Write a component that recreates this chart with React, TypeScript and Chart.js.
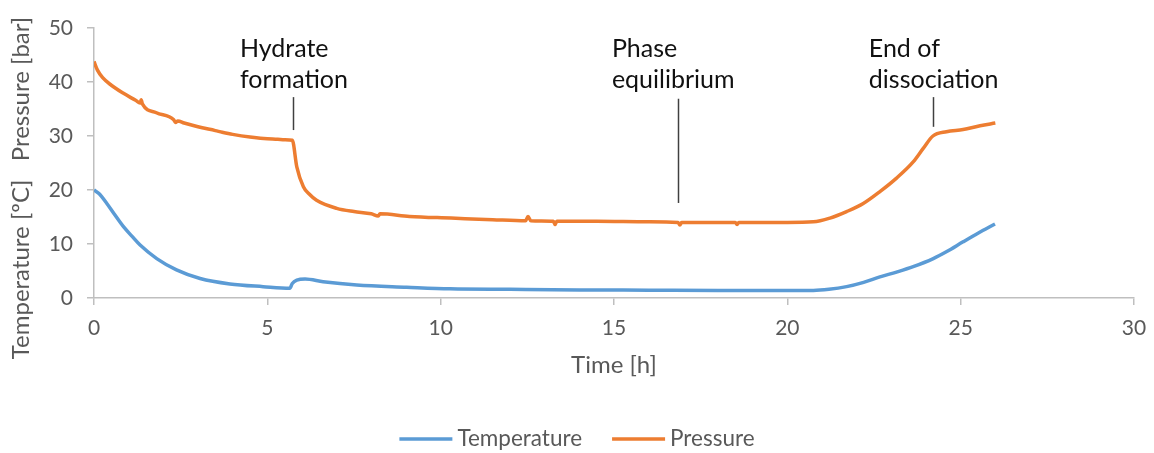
import React, { useEffect, useRef } from "react";
import { Chart, registerables } from "chart.js";
Chart.register(...registerables);

const tempTime = [0, 0.15, 0.37, 0.6, 0.85, 1.1, 1.33, 1.81, 2.38, 3.06, 3.92, 4.88, 5.65, 5.72, 5.85, 6.09, 6.61, 7.58, 9.02, 10.27, 12, 14, 16, 18, 19.8, 20.75, 21.2, 21.71, 22.2, 22.67, 23.15, 23.63, 24.21, 24.6, 25.07, 25.5, 25.99];
const tempValues = [20.0, 19.3, 17.5, 15.4, 13.2, 11.4, 9.8, 7.3, 5.2, 3.6, 2.6, 2.1, 1.8, 2.7, 3.3, 3.5, 3.0, 2.4, 2.0, 1.7, 1.6, 1.5, 1.45, 1.4, 1.4, 1.4, 1.6, 2.1, 2.9, 3.9, 4.8, 5.8, 7.3, 8.6, 10.4, 12.0, 13.7];

const pressTime = [0, 0.1, 0.25, 0.5, 0.85, 1.2, 1.33, 1.36, 1.4, 1.8, 2.3, 2.35, 2.42, 2.6, 3.0, 3.5, 3.7, 4.0, 4.5, 4.8, 5.0, 5.3, 5.5, 5.72, 5.85, 6.04, 6.2, 6.42, 7.0, 7.5, 8.0, 8.2, 8.25, 9.1, 10.3, 11.5, 12.45, 12.52, 12.6, 13.25, 13.3, 13.35, 14.5, 16.0, 16.85, 16.9, 16.95, 18.0, 18.5, 18.55, 18.6, 20.0, 20.75, 21.23, 21.71, 22.19, 22.67, 23.15, 23.63, 23.92, 24.2, 24.59, 25.07, 25.56, 26.0];
const pressValues = [43.8, 42.2, 40.8, 39.4, 37.9, 36.6, 36.1, 36.7, 35.9, 34.3, 33.0, 32.5, 32.8, 32.4, 31.7, 31.0, 30.7, 30.3, 29.8, 29.6, 29.5, 29.4, 29.3, 29.2, 24.3, 20.6, 19.3, 18.1, 16.6, 16.0, 15.6, 15.2, 15.6, 15.1, 14.8, 14.5, 14.3, 15.1, 14.3, 14.2, 13.6, 14.2, 14.2, 14.1, 14.0, 13.5, 14.0, 14.0, 14.0, 13.6, 14.0, 14.0, 14.1, 14.8, 16.0, 17.5, 19.7, 22.2, 25.2, 27.7, 30.0, 30.8, 31.2, 31.9, 32.4];

const seriesLabels = ["Temperature", "Pressure"];
const seriesColors = ["#5B9BD5", "#ED7D31"];

const annotationLines = [["Hydrate", "formation"], ["Phase", "equilibrium"], ["End of", "dissociation"]];
const annotationTextX = [4.21, 14.94, 22.35];
const annotationLineX = [5.74, 16.84, 24.19];
const annotationLineFrom = [31.1, 17.6, 31.7];
const annotationLineTo = [37.2, 36.9, 37.2];
const annotationBaselines = [44.7, 38.8];

const yTitle = "Temperature [ºC]   Pressure [bar]";
const xTitle = "Time [h]";

const FONT = "Lato";
const GREY = "#595959";
const AXIS = "#bfbfbf";

export default function App() {
  const ref = useRef<HTMLCanvasElement>(null);
  useEffect(() => {
    document.body.style.margin = "0";
    const extras = {
      id: "extras",
      afterDraw(chart: any) {
        const { ctx, scales } = chart;
        const x = scales.x;
        const y = scales.y;
        ctx.save();
        // annotations
        ctx.fillStyle = "#111111";
        ctx.font = `25px ${FONT}`;
        ctx.textAlign = "left";
        ctx.textBaseline = "alphabetic";
        annotationLines.forEach((lines, i) => {
          const tx = x.getPixelForValue(annotationTextX[i]);
          lines.forEach((t, j) => {
            ctx.fillText(t, tx, y.getPixelForValue(annotationBaselines[j]));
          });
          const lx = Math.round(x.getPixelForValue(annotationLineX[i])) + 0.5;
          ctx.strokeStyle = "#404040";
          ctx.lineWidth = 1.5;
          ctx.beginPath();
          ctx.moveTo(lx, y.getPixelForValue(annotationLineFrom[i]));
          ctx.lineTo(lx, y.getPixelForValue(annotationLineTo[i]));
          ctx.stroke();
        });
        // y title
        ctx.save();
        ctx.translate(21, 188);
        ctx.rotate(-Math.PI / 2);
        ctx.fillStyle = GREY;
        ctx.font = `24px ${FONT}`;
        ctx.textAlign = "center";
        ctx.textBaseline = "middle";
        ctx.fillText(yTitle, 0, 0);
        ctx.restore();
        // legend
        ctx.font = `22.5px ${FONT}`;
        ctx.textBaseline = "middle";
        ctx.textAlign = "left";
        const sw = 53, gap = 5, spacing = 30;
        const widths = seriesLabels.map((l) => ctx.measureText(l).width);
        const total = widths.reduce((a, w) => a + sw + gap + w, 0) + spacing;
        let cx = chart.width / 2 - total / 2;
        const ly = 439;
        seriesLabels.forEach((l, i) => {
          ctx.strokeStyle = seriesColors[i];
          ctx.lineWidth = 3.5;
          ctx.beginPath();
          ctx.moveTo(cx, ly);
          ctx.lineTo(cx + sw, ly);
          ctx.stroke();
          ctx.fillStyle = GREY;
          ctx.fillText(l, cx + sw + gap, ly);
          cx += sw + gap + widths[i] + spacing;
        });
        ctx.restore();
      },
    };
    const chart = new Chart(ref.current as HTMLCanvasElement, {
      type: "line",
      data: {
        datasets: [
          {
            label: seriesLabels[0],
            data: tempTime.map((t, i) => ({ x: t, y: tempValues[i] })),
            borderColor: seriesColors[0],
            backgroundColor: seriesColors[0],
            borderWidth: 3.5,
            pointRadius: 0,
            cubicInterpolationMode: "monotone",
            fill: false,
          },
          {
            label: seriesLabels[1],
            data: pressTime.map((t, i) => ({ x: t, y: pressValues[i] })),
            borderColor: seriesColors[1],
            backgroundColor: seriesColors[1],
            borderWidth: 3.5,
            pointRadius: 0,
            cubicInterpolationMode: "monotone",
            fill: false,
          },
        ],
      },
      options: {
        responsive: false,
        animation: false,
        layout: { padding: { left: 0, right: 20, top: 28, bottom: 73 } },
        plugins: { legend: { display: false }, tooltip: { enabled: false } },
        scales: {
          x: {
            type: "linear",
            min: 0,
            max: 30,
            ticks: { stepSize: 5, padding: 11, color: GREY, font: { family: FONT, size: 21 }, maxRotation: 0 },
            grid: { drawOnChartArea: false, drawTicks: true, tickLength: 7, color: AXIS, lineWidth: 1.5 },
            border: { color: AXIS, width: 1.5 },
            title: { display: true, text: xTitle, color: GREY, font: { family: FONT, size: 24 }, padding: 0 },
            afterFit: (s: any) => { s.height = 82; s.paddingLeft = 0; s.paddingRight = 0; },
          },
          y: {
            type: "linear",
            min: 0,
            max: 50,
            ticks: { stepSize: 10, padding: 14, color: GREY, font: { family: FONT, size: 21 } },
            grid: { drawOnChartArea: false, drawTicks: true, tickLength: 7, color: AXIS, lineWidth: 1.5 },
            border: { color: AXIS, width: 1.5 },
            afterFit: (s: any) => { s.width = 94; },
          },
        },
      },
      plugins: [extras],
    });
    return () => chart.destroy();
  }, []);
  return <canvas ref={ref} width={1154} height={453} style={{ display: "block" }} />;
}
